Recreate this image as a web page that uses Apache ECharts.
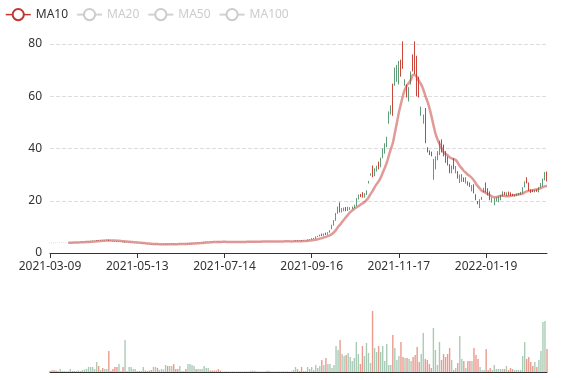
<!DOCTYPE html>
<html>
<head>
<meta charset="utf-8">
<script src="https://cdn.jsdelivr.net/npm/echarts@6/dist/echarts.min.js"></script>
<style>html,body{margin:0;padding:0;background:#fff}#main{width:577px;height:380px}</style>
</head>
<body>
<div id="main"></div>
<script>
const dates = [
'2021-03-09','2021-03-10','2021-03-11','2021-03-12','2021-03-15','2021-03-16','2021-03-17','2021-03-18','2021-03-19','2021-03-22',
'2021-03-23','2021-03-24','2021-03-25','2021-03-26','2021-03-29','2021-03-30','2021-03-31','2021-04-01','2021-04-02','2021-04-06',
'2021-04-07','2021-04-08','2021-04-09','2021-04-12','2021-04-13','2021-04-14','2021-04-15','2021-04-16','2021-04-19','2021-04-20',
'2021-04-21','2021-04-22','2021-04-23','2021-04-26','2021-04-27','2021-04-28','2021-04-29','2021-04-30','2021-05-06','2021-05-07',
'2021-05-10','2021-05-11','2021-05-12','2021-05-13','2021-05-14','2021-05-17','2021-05-18','2021-05-19','2021-05-20','2021-05-21',
'2021-05-24','2021-05-25','2021-05-26','2021-05-27','2021-05-28','2021-05-31','2021-06-01','2021-06-02','2021-06-03','2021-06-04',
'2021-06-07','2021-06-08','2021-06-09','2021-06-10','2021-06-11','2021-06-15','2021-06-16','2021-06-17','2021-06-18','2021-06-21',
'2021-06-22','2021-06-23','2021-06-24','2021-06-25','2021-06-28','2021-06-29','2021-06-30','2021-07-01','2021-07-02','2021-07-05',
'2021-07-06','2021-07-07','2021-07-08','2021-07-09','2021-07-12','2021-07-13','2021-07-14','2021-07-15','2021-07-16','2021-07-19',
'2021-07-20','2021-07-21','2021-07-22','2021-07-23','2021-07-26','2021-07-27','2021-07-28','2021-07-29','2021-07-30','2021-08-02',
'2021-08-03','2021-08-04','2021-08-05','2021-08-06','2021-08-09','2021-08-10','2021-08-16','2021-08-17','2021-08-18','2021-08-19',
'2021-08-20','2021-08-23','2021-08-24','2021-08-25','2021-08-26','2021-08-27','2021-08-30','2021-08-31','2021-09-01','2021-09-02',
'2021-09-03','2021-09-06','2021-09-07','2021-09-08','2021-09-09','2021-09-10','2021-09-13','2021-09-14','2021-09-15','2021-09-16',
'2021-09-17','2021-09-20','2021-09-21','2021-09-23','2021-09-24','2021-09-27','2021-09-28','2021-09-29','2021-09-30','2021-10-01',
'2021-10-04','2021-10-05','2021-10-06','2021-10-07','2021-10-08','2021-10-11','2021-10-12','2021-10-13','2021-10-14','2021-10-15',
'2021-10-18','2021-10-19','2021-10-20','2021-10-21','2021-10-22','2021-10-25','2021-10-26','2021-10-27','2021-10-28','2021-10-29',
'2021-11-01','2021-11-02','2021-11-03','2021-11-04','2021-11-05','2021-11-08','2021-11-09','2021-11-10','2021-11-11','2021-11-12',
'2021-11-15','2021-11-16','2021-11-17','2021-11-18','2021-11-19','2021-11-22','2021-11-23','2021-11-24','2021-11-25','2021-11-26',
'2021-11-29','2021-11-30','2021-12-01','2021-12-02','2021-12-03','2021-12-06','2021-12-07','2021-12-08','2021-12-09','2021-12-10',
'2021-12-13','2021-12-14','2021-12-15','2021-12-16','2021-12-17','2021-12-20','2021-12-21','2021-12-22','2021-12-23','2021-12-27',
'2021-12-28','2021-12-29','2021-12-30','2021-12-31','2022-01-04','2022-01-05','2022-01-06','2022-01-07','2022-01-10','2022-01-11',
'2022-01-12','2022-01-13','2022-01-14','2022-01-17','2022-01-18','2022-01-19','2022-01-20','2022-01-21','2022-01-24','2022-01-25',
'2022-01-26','2022-01-27','2022-01-28','2022-01-31','2022-02-01','2022-02-02','2022-02-03','2022-02-04','2022-02-07','2022-02-08',
'2022-02-09','2022-02-10','2022-02-11','2022-02-14','2022-02-15','2022-02-16','2022-02-17','2022-02-18','2022-02-21','2022-02-22',
'2022-02-23','2022-02-24','2022-02-25','2022-02-28','2022-03-01','2022-03-02'
];

// [open, close, lowest, highest]
const candles = [
[3.84,3.80,3.77,3.86],[3.88,3.85,3.83,3.90],[3.83,3.78,3.76,3.85],[3.93,3.90,3.88,3.95],[3.91,3.95,3.89,3.97],
[3.84,3.88,3.82,3.90],[3.89,3.92,3.87,3.94],[4.03,4.00,3.98,4.05],[3.93,3.96,3.91,3.98],[4.05,4.02,4.00,4.07],
[4.04,4.10,4.02,4.13],[4.02,4.05,4.00,4.07],[4.15,4.12,4.10,4.17],[4.14,4.20,4.12,4.23],[4.12,4.15,4.10,4.17],
[4.28,4.25,4.23,4.30],[4.25,4.30,4.23,4.33],[4.24,4.28,4.22,4.31],[4.30,4.40,4.28,4.43],[4.40,4.50,4.38,4.54],
[4.50,4.60,4.48,4.65],[4.60,4.70,4.58,4.76],[4.60,4.65,4.57,4.70],[4.68,4.90,4.65,4.98],[4.92,4.80,4.76,4.95],
[4.82,4.95,4.80,5.02],[5.00,4.90,4.86,5.06],[4.88,4.95,4.85,5.00],[4.94,5.00,4.90,5.05],[5.00,4.70,4.66,5.10],
[4.68,4.62,4.58,4.72],[4.60,4.50,4.46,4.63],[4.48,4.35,4.32,4.52],[4.36,4.25,4.22,4.40],[4.18,4.30,4.15,4.34],
[4.26,4.28,4.22,4.32],[4.26,4.10,4.06,4.28],[4.02,4.30,3.98,4.40],[4.20,4.22,4.15,4.28],[4.00,4.05,3.96,4.10],
[3.88,3.95,3.85,3.98],[3.82,3.85,3.78,3.88],[3.70,3.75,3.68,3.78],[3.63,3.65,3.60,3.68],[3.62,3.58,3.55,3.64],
[3.56,3.50,3.48,3.58],[3.45,3.52,3.43,3.55],[3.50,3.45,3.42,3.52],[3.44,3.40,3.38,3.46],[3.40,3.35,3.32,3.42],
[3.35,3.28,3.25,3.37],[3.26,3.32,3.24,3.35],[3.30,3.36,3.28,3.40],[3.36,3.28,3.25,3.38],[3.27,3.30,3.25,3.32],
[3.28,3.32,3.26,3.35],[3.31,3.34,3.29,3.36],[3.33,3.42,3.31,3.46],[3.44,3.36,3.33,3.46],[3.36,3.44,3.34,3.47],
[3.44,3.52,3.42,3.55],[3.55,3.45,3.42,3.57],[3.46,3.42,3.40,3.48],[3.44,3.40,3.38,3.46],[3.41,3.50,3.39,3.53],
[3.50,3.53,3.48,3.55],[3.53,3.56,3.51,3.58],[3.57,3.52,3.50,3.59],[3.52,3.64,3.50,3.68],[3.64,3.76,3.62,3.80],
[3.76,3.88,3.74,3.92],[3.88,3.96,3.86,4.00],[3.98,3.92,3.90,4.00],[3.92,3.98,3.90,4.01],[3.98,4.04,3.96,4.07],
[4.04,4.10,4.02,4.13],[4.10,4.22,4.08,4.26],[4.22,4.30,4.20,4.34],[4.30,4.36,4.28,4.40],[4.37,4.33,4.31,4.39],
[4.34,4.30,4.28,4.36],[4.31,4.28,4.26,4.33],[4.29,4.26,4.24,4.31],[4.30,4.20,4.18,4.34],[4.21,4.18,4.16,4.23],
[4.18,4.20,4.16,4.22],[4.20,4.22,4.18,4.24],[4.23,4.21,4.19,4.25],[4.21,4.23,4.19,4.25],[4.23,4.25,4.21,4.27],
[4.26,4.24,4.22,4.28],[4.24,4.26,4.22,4.28],[4.25,4.27,4.23,4.29],[4.28,4.25,4.23,4.30],[4.24,4.26,4.22,4.28],
[4.26,4.28,4.24,4.30],[4.29,4.27,4.25,4.31],[4.27,4.29,4.25,4.31],[4.28,4.30,4.26,4.32],[4.29,4.34,4.27,4.37],
[4.33,4.38,4.31,4.41],[4.37,4.42,4.35,4.45],[4.43,4.40,4.38,4.45],[4.39,4.41,4.37,4.43],[4.42,4.40,4.38,4.44],
[4.39,4.41,4.37,4.43],[4.41,4.39,4.37,4.43],[4.39,4.44,4.37,4.47],[4.43,4.48,4.41,4.51],[4.49,4.47,4.45,4.51],
[4.48,4.46,4.44,4.50],[4.45,4.47,4.43,4.49],[4.47,4.45,4.43,4.49],[4.46,4.44,4.42,4.48],[4.43,4.45,4.41,4.47],
[4.46,4.44,4.42,4.48],[4.43,4.45,4.41,4.47],[4.45,4.43,4.41,4.47],[4.42,4.44,4.40,4.46],[4.45,4.43,4.41,4.47],
[4.44,4.52,4.42,4.56],[4.52,4.75,4.50,4.82],[4.78,4.66,4.62,4.84],[4.68,4.62,4.58,4.72],[4.75,4.55,4.50,4.85],
[4.56,4.70,4.54,4.74],[4.70,4.78,4.68,4.82],[4.80,5.10,4.78,5.20],[5.10,5.25,5.05,5.32],[5.25,5.60,5.22,5.70],
[5.65,5.50,5.42,5.72],[5.50,6.20,5.45,6.35],[6.20,6.40,6.10,6.55],[6.40,6.90,6.35,7.05],[7.20,6.60,6.50,7.40],
[6.60,7.30,6.55,7.45],[7.60,7.00,6.90,7.80],[7.00,7.80,6.95,7.95],[7.80,8.60,7.75,8.75],[9.20,10.50,9.10,10.80],
[10.60,12.40,10.50,12.60],[12.50,15.00,12.30,15.30],[15.20,17.60,15.00,17.80],[19.00,15.80,15.50,19.40],[15.80,16.80,15.50,17.20],
[16.20,17.00,16.00,17.40],[17.40,16.30,16.00,17.60],[16.30,17.40,16.10,17.70],[16.80,17.20,16.50,17.50],[17.00,17.60,16.80,17.80],
[17.40,18.20,17.20,18.50],[18.20,20.50,18.00,21.00],[20.80,22.00,20.50,22.40],[22.40,21.60,21.40,22.60],[23.00,21.50,21.20,23.30],
[21.40,22.60,21.20,22.90],[22.40,23.60,22.20,24.00],[26.80,27.40,26.60,27.60],[29.80,30.30,29.60,30.50],[33.00,29.50,29.00,33.50],
[29.60,32.00,29.40,32.40],[31.50,33.00,31.20,33.40],[34.50,32.50,32.00,35.00],[33.00,36.00,32.80,36.50],[36.50,39.50,36.30,40.00],
[38.50,41.50,38.00,42.00],[41.00,44.00,40.50,44.50],[50.00,53.80,49.50,54.20],[53.50,56.00,53.00,56.50],[64.30,53.00,52.50,64.80],
[64.50,70.50,64.00,71.00],[66.00,71.50,65.50,72.00],[65.00,73.00,64.50,73.50],[73.00,68.00,67.50,74.00],[80.00,71.00,70.50,81.00],
[64.50,66.00,64.00,66.50],[64.00,60.00,59.50,64.50],[58.50,63.00,58.00,63.50],[65.00,69.00,64.50,69.50],[75.00,70.00,69.50,76.00],
[80.00,69.00,68.50,81.00],[75.00,61.00,60.00,75.50],[67.00,60.00,59.50,67.50],[53.00,55.50,52.50,56.00],[50.00,52.50,49.50,53.00],
[55.00,42.50,42.00,55.50],[40.00,39.00,38.50,40.50],[39.00,38.00,37.50,39.30],[38.50,37.50,37.00,38.80],[28.50,35.50,28.00,36.00],
[32.50,36.50,32.00,37.00],[35.80,38.50,35.50,39.00],[38.00,42.50,37.50,43.00],[43.00,39.00,38.50,43.50],[41.00,37.50,37.00,41.50],
[38.50,35.00,34.50,39.00],[36.50,34.00,33.50,37.00],[33.50,30.80,30.50,34.00],[30.80,33.00,30.50,33.50],[36.00,32.50,32.00,36.30],
[30.80,33.00,30.50,33.30],[31.00,28.80,28.50,31.30],[27.00,29.50,26.80,30.00],[27.50,29.90,27.20,30.20],[28.60,27.40,27.20,28.90],
[26.80,28.70,26.60,29.00],[27.20,26.00,25.80,27.40],[26.80,25.50,25.30,27.00],[23.80,25.70,23.60,26.00],[26.00,23.00,22.80,26.30],
[22.20,20.40,20.20,22.50],[19.60,18.90,18.70,19.90],[17.40,20.30,17.20,20.60],[20.50,21.30,20.30,21.50],[23.40,24.80,23.20,25.00],
[26.80,23.40,23.20,27.00],[24.50,22.20,22.00,24.80],[23.40,20.40,20.20,23.60],[19.50,21.00,19.30,21.20],[18.50,20.70,18.30,21.00],
[19.90,21.00,19.70,21.30],[19.60,21.40,19.40,21.60],[20.40,22.00,20.20,22.20],[21.80,23.40,21.60,23.60],[23.20,22.30,22.10,23.40],
[22.00,23.00,21.80,23.20],[23.30,22.20,22.00,23.50],[23.00,22.00,21.80,23.20],[22.50,22.00,21.80,22.70],[21.80,22.30,21.60,22.50],
[22.00,22.50,21.80,22.70],[22.30,22.80,22.10,23.00],[22.50,23.20,22.30,23.40],[23.00,25.00,22.80,25.20],[25.30,27.20,25.10,27.40],
[28.70,26.80,26.60,29.00],[26.80,24.00,23.80,27.00],[24.20,23.20,23.00,24.40],[24.00,23.50,23.30,24.20],[23.40,24.00,23.20,24.20],
[24.20,23.60,23.40,24.40],[23.40,25.00,23.20,25.20],[25.20,26.50,25.00,26.80],[25.60,28.20,25.40,28.50],[28.00,30.60,27.80,31.00],
[31.00,27.60,27.40,31.20]
];

const volumes = [
1,1.7,1.7,1.5,1,3,1,0.8,0.8,0.8,
3,1,1,1,1.5,0.8,2,2.5,3,5,
5,5,3,10,6,2,4,3,3,21,
1,3,5,5,8,1,5,32,1,5,
5,3,3,1,1,1,5,1.5,1,1.5,
2,5,5,4,2,3,2.5,7,6,6,
6,8,3,3,6,1,1,3,8,8,
7,6,3,3,3,3,6,4,4,1.5,
1.5,1.5,1.5,3,1.5,0.5,0.5,0.5,0.5,0.5,
0.5,0.5,0.5,0.5,0.5,0.5,0.5,0.5,0.5,1.3,
1.3,1.3,0.5,0.5,0.5,0.5,0.5,1.3,1.3,0.5,
0.5,0.5,0.5,0.5,0.5,0.5,0.5,0.5,0.5,0.6,
2,5,3,1,5,1,1,5,3,5,
1.7,7,4,6,12,7,14,8,8,4,
7,26,22,32,18,16,17,19,15,11,
14,30,18,8,26,16,29,19,9,61,
24,20,26,20,26,11,28,7,7,37,
24,12,16,30,15,14,14,13,11,15,
17,25,10,18,39,13,12,8,4,44,
22,7,30,12,18,15,18,24,12,2,
4,9,36,13,11,4,11,11,11,24,
17,13,5,2,2,23,2,4,2,7,
3,3,3,3,3,6,2,4,3,2,
2,2,2,16,30,13,15,10,6,10,
5,12,21,50,51,23
];

const maNames = ['MA10', 'MA20', 'MA50', 'MA100'];
const maDays = [10, 20, 50, 100];
const maColors = ['#c23531', '#2f4554', '#61a0a8', '#d48265'];
const priceMin = 0, priceMax = 80, priceStep = 20;
const volMax = 80;
const labelEvery = 43;

const upColor = '#5f9d79', downColor = '#c9463b';
const upVolColor = '#a9cbb6', downVolColor = '#eb9a8e';

function calculateMA(dayCount) {
  const result = [];
  for (let i = 0; i < candles.length; i++) {
    if (i < dayCount - 1) { result.push('-'); continue; }
    let sum = 0;
    for (let j = 0; j < dayCount; j++) sum += candles[i - j][1];
    result.push(+(sum / dayCount).toFixed(3));
  }
  return result;
}

const chart = echarts.init(document.getElementById('main'), null, { renderer: 'canvas' });
const font = 'Noto Sans';
const selected = {};
maNames.forEach((n, i) => selected[n] = i === 0);

const option = {
  animation: false,
  textStyle: { fontFamily: font },
  legend: {
    data: maNames,
    left: 0, top: 3,
    selected: selected,
    inactiveColor: '#ccc',
    lineStyle: { width: 1.5, opacity: 1 },
    itemStyle: { borderWidth: 1.5 },
    textStyle: { color: '#333', fontSize: 12, fontFamily: font }
  },
  grid: [
    { left: 50, right: 30, top: 44, height: 209 },
    { left: 50, right: 30, top: 292, height: 80 }
  ],
  xAxis: [
    {
      type: 'category', data: dates, boundaryGap: false,
      axisLine: { onZero: false, lineStyle: { color: '#333' } },
      axisTick: { interval: labelEvery - 1, length: 5, lineStyle: { color: '#333' } },
      axisLabel: { interval: labelEvery - 1, color: '#333', fontSize: 12, fontFamily: font, margin: 8 },
      splitLine: { show: false },
      min: 'dataMin', max: 'dataMax'
    },
    {
      type: 'category', gridIndex: 1, data: dates, boundaryGap: false,
      axisLine: { onZero: false, lineStyle: { color: '#333' } },
      axisTick: { show: false }, axisLabel: { show: false }, splitLine: { show: false },
      min: 'dataMin', max: 'dataMax'
    }
  ],
  yAxis: [
    {
      min: priceMin, max: priceMax, interval: priceStep,
      axisLine: { show: false }, axisTick: { show: false },
      axisLabel: { color: '#333', fontSize: 12, fontFamily: font, margin: 8 },
      splitLine: { lineStyle: { type: 'dashed', color: '#ddd' } }
    },
    { gridIndex: 1, min: 0, max: volMax, show: false }
  ],
  series: [
    {
      name: 'K', type: 'candlestick', data: candles,
      itemStyle: { color: upColor, color0: downColor, borderColor: upColor, borderColor0: downColor }
    }
  ].concat(maNames.map((n, i) => ({
    name: n, type: 'line', data: calculateMA(maDays[i]), smooth: true, showSymbol: false,
    color: maColors[i],
    lineStyle: { width: 2.5, opacity: 0.5 }
  }))).concat([{
    name: 'Volume', type: 'bar', xAxisIndex: 1, yAxisIndex: 1,
    data: volumes.map((v, i) => ({
      value: v,
      itemStyle: { color: candles[i][1] >= candles[i][0] ? upVolColor : downVolColor }
    }))
  }])
};
chart.setOption(option);
</script>
</body>
</html>
